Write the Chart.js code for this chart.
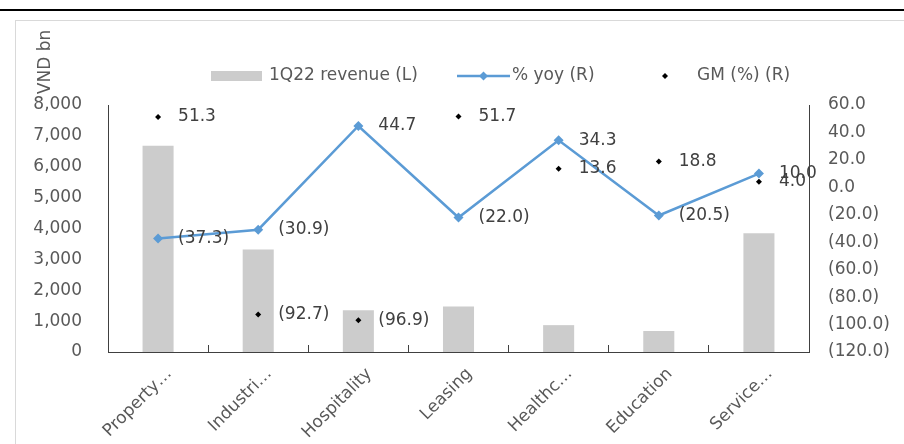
<!DOCTYPE html>
<html>
<head>
<meta charset="utf-8">
<script src="https://cdn.jsdelivr.net/npm/chart.js@4.4.1/dist/chart.umd.min.js"></script>
<style>
  body { margin: 0; background: #fff; overflow: hidden; }
  #wrap { position: relative; width: 904px; height: 444px; }
  .topline { position: absolute; left: 0; top: 9px; width: 904px; height: 2px; background: #000; }
  .frame { position: absolute; left: 15px; top: 20px; width: 900px; height: 440px; border: 1px solid #d9d9d9; }
  canvas { position: absolute; left: 0; top: 0; }
</style>
</head>
<body>
<div id="wrap">
  <div class="topline"></div>
  <div class="frame"></div>
  <canvas id="canvas" width="904" height="444"></canvas>
</div>
<script>
// du lieu
const categories = ["Property…", "Industri…", "Hospitality", "Leasing", "Healthc…", "Education", "Service…"];
const revenue = [6680, 3320, 1350, 1470, 870, 680, 3850];
const yoy = [-37.3, -30.9, 44.7, -22.0, 34.3, -20.5, 10.0];
const gm = [51.3, -92.7, -96.9, 51.7, 13.6, 18.8, 4.0];

const legendNames = ["1Q22 revenue (L)", "% yoy (R)", "GM (%) (R)"];
const axisTitle = "VND bn";

const FONT = "DejaVu Sans";
const TEXT = "#595959";
const BLUE = "#5b9bd5";

function fmtPct(v) {
  const s = Math.abs(v).toFixed(1);
  return v < 0 ? "(" + s + ")" : s;
}

function diamond(ctx, x, y, r, color) {
  ctx.fillStyle = color;
  ctx.beginPath();
  ctx.moveTo(x, y - r);
  ctx.lineTo(x + r, y);
  ctx.lineTo(x, y + r);
  ctx.lineTo(x - r, y);
  ctx.closePath();
  ctx.fill();
}

// nhan du lieu ben phai diem
const pointLabels = {
  id: "pointLabels",
  afterDatasetsDraw(chart) {
    const ctx = chart.ctx;
    ctx.save();
    ctx.font = "17px " + FONT;
    ctx.fillStyle = "#404040";
    ctx.textAlign = "left";
    ctx.textBaseline = "middle";
    [1, 2].forEach((di) => {
      const meta = chart.getDatasetMeta(di);
      meta.data.forEach((pt, i) => {
        ctx.fillText(fmtPct(chart.data.datasets[di].data[i]), pt.x + 20, pt.y);
      });
    });
    ctx.restore();
  },
};

// chu thich + tieu de truc
const legendRow = {
  id: "legendRow",
  afterDraw(chart) {
    const ctx = chart.ctx;
    const y = 76;
    ctx.save();
    ctx.font = "17px " + FONT;
    ctx.textBaseline = "middle";
    ctx.textAlign = "left";

    ctx.fillStyle = "#cccccc";
    ctx.fillRect(211, 71, 51, 10);
    ctx.fillStyle = TEXT;
    ctx.fillText(legendNames[0], 269, y);

    ctx.strokeStyle = BLUE;
    ctx.lineWidth = 2.5;
    ctx.beginPath();
    ctx.moveTo(457, y);
    ctx.lineTo(510, y);
    ctx.stroke();
    diamond(ctx, 483.5, y, 4.5, BLUE);
    ctx.fillStyle = TEXT;
    ctx.fillText(legendNames[1], 512, y);

    diamond(ctx, 665, y, 3, "#000");
    ctx.fillStyle = TEXT;
    ctx.fillText(legendNames[2], 697, y);

    ctx.translate(46, 62);
    ctx.rotate(-Math.PI / 2);
    ctx.textAlign = "center";
    ctx.fillText(axisTitle, 0, 0);
    ctx.restore();
  },
};

Chart.defaults.font.family = FONT;
Chart.defaults.font.size = 17;
Chart.defaults.color = TEXT;

const ctx = document.getElementById("canvas").getContext("2d");
const myChart = new Chart(ctx, {
  type: "bar",
  data: {
    labels: categories,
    datasets: [
      {
        label: legendNames[0],
        data: revenue,
        backgroundColor: "#cccccc",
        barPercentage: 0.31,
        categoryPercentage: 1,
        yAxisID: "y",
        order: 3,
      },
      {
        type: "line",
        label: legendNames[1],
        data: yoy,
        borderColor: BLUE,
        backgroundColor: BLUE,
        borderWidth: 2.5,
        pointStyle: "rectRot",
        pointRadius: 5,
        pointBorderWidth: 0,
        tension: 0,
        yAxisID: "y1",
        order: 2,
      },
      {
        type: "line",
        label: legendNames[2],
        data: gm,
        showLine: false,
        pointStyle: "rectRot",
        pointRadius: 3,
        pointBorderWidth: 0,
        backgroundColor: "#000",
        borderColor: "#000",
        yAxisID: "y1",
        order: 1,
      },
    ],
  },
  options: {
    responsive: false,
    animation: false,
    layout: { padding: { top: 105, left: 0, right: 0, bottom: 0 } },
    plugins: {
      legend: { display: false },
      tooltip: { enabled: false },
    },
    scales: {
      x: {
        offset: true,
        grid: {
          offset: true,
          drawOnChartArea: false,
          drawTicks: true,
          tickLength: -7,
          color: "#404040",
        },
        border: { color: "#404040", width: 1 },
        ticks: {
          autoSkip: false,
          minRotation: 45,
          maxRotation: 45,
          padding: 19,
          labelOffset: 11,
          color: TEXT,
        },
        afterFit: (s) => { s.height = 92; },
      },
      y: {
        position: "left",
        min: 0,
        max: 8000,
        grid: { display: false, drawTicks: false },
        border: { display: true, color: "#404040", width: 1 },
        ticks: {
          stepSize: 1000,
          padding: 26,
          color: TEXT,
          callback: (v) => v.toLocaleString("en-US"),
        },
        afterFit: (s) => { s.width = 108; },
      },
      y1: {
        position: "right",
        min: -120,
        max: 60,
        grid: { display: false, drawTicks: false },
        border: { display: true, color: "#404040", width: 1 },
        ticks: {
          stepSize: 20,
          padding: 19,
          color: TEXT,
          callback: (v) => fmtPct(v),
        },
        afterFit: (s) => { s.width = 95; },
      },
    },
  },
  plugins: [pointLabels, legendRow],
});
</script>
</body>
</html>
